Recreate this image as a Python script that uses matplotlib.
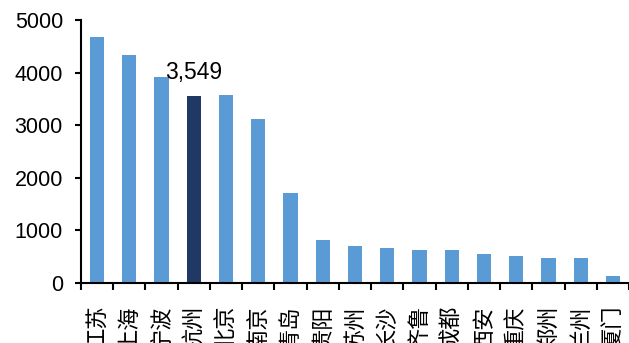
import numpy as np
import matplotlib.pyplot as plt

plt.rcParams['font.family'] = ['Liberation Sans', 'DejaVu Sans']

# --- data ---
cities = ['江苏', '上海', '宁波', '杭州', '北京', '南京', '青岛', '贵阳', '苏州',
          '长沙', '齐鲁', '成都', '西安', '重庆', '郑州', '兰州', '厦门']
values = [4675, 4335, 3915, 3549, 3575, 3115, 1710, 820, 705,
          665, 630, 630, 550, 515, 475, 475, 135]
highlight = '杭州'
yticks = [0, 1000, 2000, 3000, 4000, 5000]

light = '#5B9BD5'
dark = '#1F3864'

fig = plt.figure(figsize=(6.29, 3.43), dpi=100)
ax = fig.add_axes([81 / 629, 60 / 343, 548 / 629, 263 / 343])

x = np.arange(len(cities))
colors = [dark if c == highlight else light for c in cities]
ax.bar(x, values, width=0.44, color=colors, zorder=2)

# annotation for the highlighted bar
hi = cities.index(highlight)
ax.text(hi, values[hi] + 230, f'{values[hi]:,}', ha='center', va='bottom',
        fontsize=16.5, color='black')

ax.set_xlim(-0.5, len(cities) - 0.5)
ax.set_ylim(0, 5000)
ax.set_yticks(yticks)
ax.set_yticklabels([str(v) for v in yticks], fontsize=15.5)
ax.tick_params(axis='y', direction='out', length=4, width=1.5, pad=9)

# boundary ticks on x, labels at category centres (rotated, read bottom-up)
ax.set_xticks(np.arange(-0.5, len(cities), 1.0))
ax.set_xticklabels([])
ax.tick_params(axis='x', which='major', direction='out', length=5, width=1.5)
ax.set_xticks(x, minor=True)
ax.set_xticklabels(cities, minor=True, rotation=90,
                   fontsize=16, family=['Noto Sans CJK SC'])
ax.tick_params(axis='x', which='minor', length=0, pad=16)

for s in ['top', 'right']:
    ax.spines[s].set_visible(False)
for s in ['left', 'bottom']:
    ax.spines[s].set_linewidth(1.5)
    ax.spines[s].set_color('black')

fig.savefig('out.png', dpi=100)
